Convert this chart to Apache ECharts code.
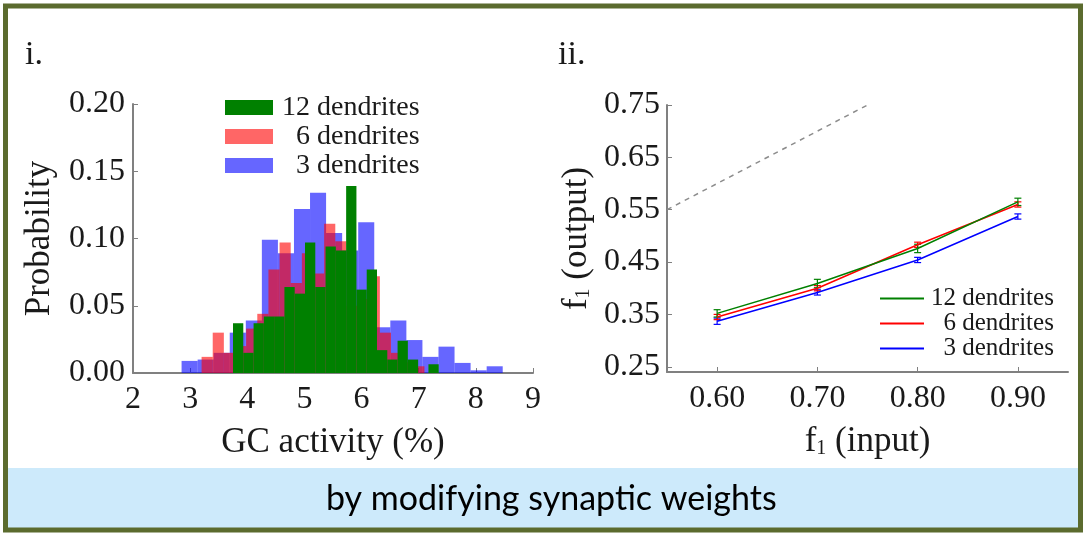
<!DOCTYPE html>
<html><head><meta charset="utf-8">
<script src="https://cdn.jsdelivr.net/npm/echarts@6/dist/echarts.min.js"></script>
<style>html,body{margin:0;padding:0;background:#fff}#c{width:1085px;height:535px}</style>
</head><body><div id="c"></div><script>
// ---------- Panel i: histogram (each series has its own 20 bins) ----------
const histNames = ['12 dendrites', '6 dendrites', '3 dendrites'];
const histLegendText = ['12 dendrites', '  6 dendrites', '  3 dendrites'];
const greenEdges = [3.75,3.93,4.11,4.29,4.47,4.65,4.83,5.01,5.19,5.37,5.55,5.73,5.91,6.09,6.27,6.45,6.63,6.81,6.99,7.17,7.35];
const greenProb  = [0.037,0.015,0.037,0.042,0.042,0.064,0.059,0.097,0.064,0.094,0.091,0.139,0.062,0.077,0.017,0.010,0.024,0.010,0,0.0065];
const redEdges   = [3.20,3.395,3.59,3.785,3.98,4.175,4.37,4.565,4.76,4.955,5.15,5.345,5.54,5.735,5.93,6.125,6.32,6.515,6.71,6.905,7.10];
const redProb    = [0.012,0.030,0.015,0.020,0.033,0.044,0.077,0.097,0.067,0.089,0.074,0.111,0.098,0.050,0.055,0.072,0.030,0.015,0.008,0.005];
const blueEdges  = [2.85,3.131,3.412,3.693,3.974,4.255,4.536,4.817,5.098,5.379,5.66,5.941,6.222,6.503,6.784,7.065,7.346,7.627,7.908,8.189,8.47];
const blueProb   = [0.009,0.010,0.015,0.030,0.039,0.099,0.089,0.122,0.134,0.104,0.091,0.112,0.034,0.039,0.0245,0.012,0.0196,0.0075,0.002,0.005];

// ---------- Panel ii: f1 output vs input ----------
const inputs = [0.60, 0.70, 0.80, 0.90];
const out12 = [0.352, 0.409, 0.476, 0.565];
const out6  = [0.345, 0.400, 0.483, 0.560];
const out3  = [0.337, 0.392, 0.454, 0.537];
const err12 = [0.007, 0.008, 0.008, 0.007];
const err6  = [0.005, 0.005, 0.005, 0.005];
const err3  = [0.006, 0.005, 0.005, 0.005];
const identityLine = [0.55, 0.75];
const xTicksII = [0.60, 0.70, 0.80, 0.90];
const yTicksII = [0.25, 0.35, 0.45, 0.55, 0.65, 0.75];
const lineNames = ['L12', 'L6', 'L3'];
const lineLegendText = {L12: '12 dendrites', L6: '  6 dendrites', L3: '  3 dendrites'};

const SERIF = '"Liberation Serif", "Times New Roman", serif';
const AX = '#808080';
const TXT = '#1a1a1a';

function histSeries(name, edges, probs, color) {
  return {
    type: 'custom', name: name, xAxisIndex: 0, yAxisIndex: 0,
    itemStyle: { color: color },
    encode: { x: [0, 1], y: 2 },
    data: probs.map((p, i) => [edges[i], edges[i + 1], p]),
    renderItem: function (params, api) {
      const a = api.coord([api.value(0), api.value(2)]);
      const b = api.coord([api.value(1), 0]);
      return { type: 'rect', shape: { x: a[0], y: a[1], width: b[0] - a[0], height: b[1] - a[1] },
               style: { fill: color } };
    }
  };
}
function lineSeries(name, ys, color) {
  return { type: 'line', name: name, xAxisIndex: 1, yAxisIndex: 1, showSymbol: false,
    itemStyle: { color: color }, lineStyle: { color: color, width: 1.5 },
    data: inputs.map((x, i) => [x, ys[i]]) };
}
function errSeries(ys, errs, color) {
  return { type: 'custom', xAxisIndex: 1, yAxisIndex: 1, encode: { x: 0, y: [1, 2] },
    data: inputs.map((x, i) => [x, ys[i] - errs[i], ys[i] + errs[i]]),
    renderItem: function (params, api) {
      const t = api.coord([api.value(0), api.value(2)]);
      const b = api.coord([api.value(0), api.value(1)]);
      const w = 3.5, st = { stroke: color, lineWidth: 1.2 };
      return { type: 'group', children: [
        { type: 'line', shape: { x1: t[0], y1: t[1], x2: b[0], y2: b[1] }, style: st },
        { type: 'line', shape: { x1: t[0] - w, y1: t[1], x2: t[0] + w, y2: t[1] }, style: st },
        { type: 'line', shape: { x1: b[0] - w, y1: b[1], x2: b[0] + w, y2: b[1] }, style: st }
      ] };
    } };
}

const axisCommon = {
  axisLine: { show: true, lineStyle: { color: AX, width: 2 } },
  axisTick: { show: true, inside: true, length: 5, lineStyle: { color: AX, width: 1 } },
  splitLine: { show: false },
  axisLabel: { color: TXT, fontFamily: SERIF, fontSize: 32 },
  nameTextStyle: { color: TXT, fontFamily: SERIF, fontSize: 35 }
};

const chart = echarts.init(document.getElementById('c'));
chart.setOption({
  animation: false,
  backgroundColor: '#ffffff',
  grid: [
    { left: 133, top: 104, width: 400, height: 269 },
    { left: 667, top: 105, width: 401, height: 267 }
  ],
  xAxis: [
    Object.assign({}, axisCommon, { gridIndex: 0, type: 'value', min: 2, max: 9, interval: 1,
      axisLabel: Object.assign({}, axisCommon.axisLabel, { margin: 11 }),
      name: 'GC activity (%)', nameLocation: 'middle', nameGap: 52 }),
    Object.assign({}, axisCommon, { gridIndex: 1, type: 'value', min: 0.55, max: 0.95,
      axisTick: Object.assign({}, axisCommon.axisTick, { customValues: xTicksII }),
      axisLabel: Object.assign({}, axisCommon.axisLabel, { margin: 11, customValues: xTicksII,
        formatter: v => v.toFixed(2) }),
      name: '{a|f}{s|1}{a| (input)}', nameLocation: 'middle', nameGap: 52,
      nameTextStyle: { rich: {
        a: { fontFamily: SERIF, fontSize: 35, color: TXT },
        s: { fontFamily: SERIF, fontSize: 20, color: TXT, padding: [14, 0, 0, 0] } } } })
  ],
  yAxis: [
    Object.assign({}, axisCommon, { gridIndex: 0, type: 'value', min: 0, max: 0.2, interval: 0.05,
      axisLabel: Object.assign({}, axisCommon.axisLabel, { margin: 8, formatter: v => v.toFixed(2) }),
      name: 'Probability', nameLocation: 'middle', nameGap: 76 }),
    Object.assign({}, axisCommon, { gridIndex: 1, type: 'value', min: 0.24, max: 0.75,
      axisTick: Object.assign({}, axisCommon.axisTick, { customValues: yTicksII }),
      axisLabel: Object.assign({}, axisCommon.axisLabel, { margin: 7, customValues: yTicksII,
        formatter: v => v.toFixed(2) }),
      name: '{a|f}{s|1}{a| (output)}', nameLocation: 'middle', nameGap: 73,
      nameTextStyle: { rich: {
        a: { fontFamily: SERIF, fontSize: 35, color: TXT },
        s: { fontFamily: SERIF, fontSize: 20, color: TXT, padding: [14, 0, 0, 0] } } } })
  ],
  legend: [
    { data: histNames, orient: 'vertical', left: 220, top: 88, icon: 'rect', itemWidth: 48, itemHeight: 15,
      itemGap: 0, selectedMode: false,
      formatter: n => histLegendText[histNames.indexOf(n)],
      textStyle: { fontFamily: SERIF, fontSize: 28, color: TXT, lineHeight: 29, padding: [0, 0, 0, 4] } },
    { data: lineNames, orient: 'vertical', left: 875, top: 281, icon: 'rect', itemWidth: 44, itemHeight: 2,
      itemGap: 0, selectedMode: false,
      formatter: n => lineLegendText[n],
      textStyle: { fontFamily: SERIF, fontSize: 25, color: TXT, lineHeight: 24, padding: [0, 0, 0, 2] } }
  ],
  series: [
    histSeries(histNames[2], blueEdges, blueProb, 'rgba(0,0,255,0.6)'),
    histSeries(histNames[1], redEdges, redProb, 'rgba(255,0,0,0.6)'),
    histSeries(histNames[0], greenEdges, greenProb, '#008000'),
    { type: 'line', xAxisIndex: 1, yAxisIndex: 1, showSymbol: false, silent: true,
      lineStyle: { color: '#8c8c8c', width: 1.5, type: [5, 5] },
      data: identityLine.map(v => [v, v]) },
    lineSeries(lineNames[2], out3, '#0000ff'),
    lineSeries(lineNames[1], out6, '#ff0000'),
    lineSeries(lineNames[0], out12, '#008000'),
    errSeries(out3, err3, '#0000ff'),
    errSeries(out6, err6, '#ff0000'),
    errSeries(out12, err12, '#008000')
  ],
  graphic: [
    { type: 'rect', z: 100, silent: true, shape: { x: 8, y: 468, width: 1070, height: 60 },
      style: { fill: '#cdeafb' } },
    { type: 'text', z: 101, left: 326, top: 482,
      style: { text: 'by modifying synaptic weights', fontFamily: 'Lato, "Liberation Sans", sans-serif',
               fontSize: 34, fill: '#000' } },
    { type: 'rect', z: 102, silent: true, shape: { x: 5.5, y: 6, width: 1075, height: 524 },
      style: { fill: 'none', stroke: '#5b6b2e', lineWidth: 5 } },
    { type: 'text', z: 101, left: 25, top: 38,
      style: { text: 'i.', fontFamily: SERIF, fontSize: 34, fill: TXT } },
    { type: 'text', z: 101, left: 558, top: 38,
      style: { text: 'ii.', fontFamily: SERIF, fontSize: 34, fill: TXT } }
  ]
});
</script></body></html>
